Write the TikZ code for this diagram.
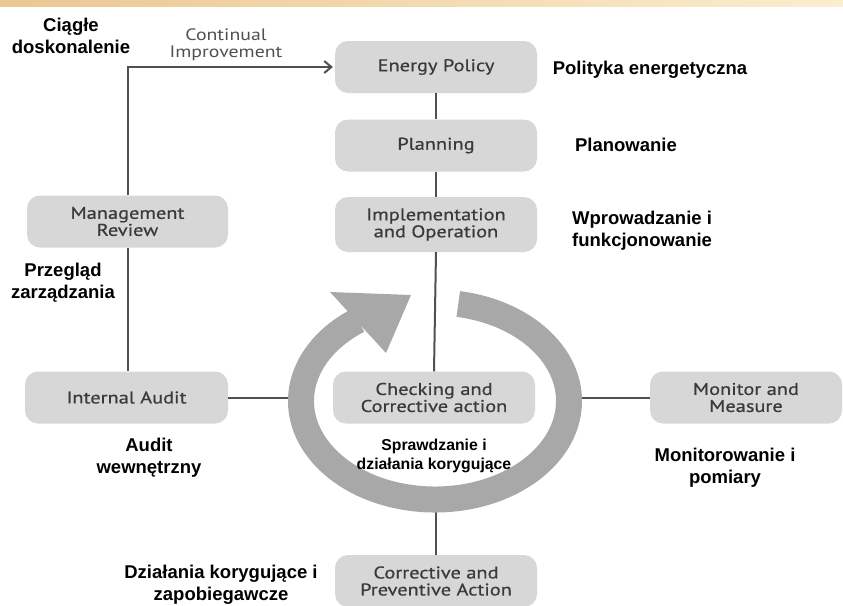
\documentclass[tikz,border=0pt]{standalone}
\usepackage{fontspec}
\setmainfont{Liberation Sans}
\newfontfamily\boxfont[FakeStretch=1.2, FakeBold=0.6]{PT Sans}
\newfontfamily\cifont[FakeStretch=1.2]{PT Sans}
\usetikzlibrary{arrows.meta}
\definecolor{boxgray}{HTML}{D7D7D7}
\definecolor{ringgray}{HTML}{A8A8A8}
\definecolor{linegray}{HTML}{505050}
\definecolor{boxtext}{HTML}{3A3A3A}
\definecolor{bandL}{HTML}{EBC792}
\definecolor{bandR}{HTML}{FBEDCF}
\begin{document}
\begin{tikzpicture}[x=1pt,y=-1pt,
  stepbox/.style={fill=boxgray, rounded corners=13pt, minimum width=202pt,
    minimum height=52pt, inner sep=0pt, align=center,
    font=\boxfont\fontsize{17}{17}\selectfont, text=boxtext},
  pl/.style={font=\bfseries\fontsize{18.5}{22}\selectfont, align=center, inner sep=0pt},
  plsmall/.style={font=\bfseries\fontsize{15.8}{19}\selectfont, align=center, inner sep=0pt},
  conn/.style={draw=linegray, line width=2pt},
  ring/.style={draw=ringgray, line width=26pt}]
\useasboundingbox (0,0) rectangle (843,605);
\clip (0,0) rectangle (843,605);
\fill[white] (0,0) rectangle (843,605);
\shade[left color=bandL, right color=bandR] (0,0) rectangle (843,6);

% boxes
\node[stepbox] (energy) at (436,67) {Energy Policy};
\node[stepbox] (planning) at (436,145.5) {Planning};
\node[stepbox, minimum height=55pt] (impl) at (436,224.5) {Implementation\\and Operation};
\node[stepbox, minimum width=201pt] (mgmt) at (127.5,221.5) {Management\\Review};
\node[stepbox, minimum width=203pt] (audit) at (126.5,397.5) {Internal Audit};
\node[stepbox] (check) at (434,397.5) {Checking and\\Corrective action};
\node[stepbox, minimum width=192pt] (monitor) at (746,397.5) {Monitor and\\Measure};
\node[stepbox] (corr) at (436,581) {Corrective and\\Preventive Action};

% connectors
\draw[conn] (energy.south) -- (planning.north);
\draw[conn] (planning.south) -- (impl.north);
\draw[conn] (impl.south) -- (check.north);
\draw[conn] (mgmt.south) -- (mgmt.south |- audit.north);
\draw[conn, -{Straight Barb[length=7pt,width=12pt]}] (mgmt.north) |- ([xshift=-2pt]energy.west);
\coordinate (ringW) at (295,397.5);
\coordinate (ringE) at (576,397.5);
\coordinate (ringS) at (436,505);
\draw[conn] (audit.east) -- (ringW);
\draw[conn] (ringE) -- (monitor.west);
\draw[conn] (ringS) -- (corr.north);

% cycle ring
\coordinate (rc) at (435,401);
\draw[ring] (rc) ++(-80:134 and 98.5) arc[start angle=-80, end angle=235, x radius=134, y radius=98.5];
\fill[ringgray] (330,292) -- (411,295) -- (386,353) -- cycle;

% labels
\node[font=\cifont\fontsize{16.5}{17.5}\selectfont, text=linegray, align=center, inner sep=0pt] (ci) at (226,45) {Continual\\Improvement};
\node[pl] (l1) at (71,36) {Ciągłe\\doskonalenie};
\node[pl] (l2) at (650,70) {Polityka energetyczna};
\node[pl] (l3) at (626,145) {Planowanie};
\node[pl, align=left, anchor=west] (l4) at (572,231) {Wprowadzanie i\\funkcjonowanie};
\node[pl] (l5) at (63,283) {Przegląd\\zarządzania};
\node[pl] (l6) at (149,458) {Audit\\wewnętrzny};
\node[plsmall] (l7) at (434,456) {Sprawdzanie i\\działania korygujące};
\node[pl] (l8) at (725,468) {Monitorowanie i\\pomiary};
\node[pl] (l9) at (221,585) {Działania korygujące i\\zapobiegawcze};
\end{tikzpicture}
\end{document}
